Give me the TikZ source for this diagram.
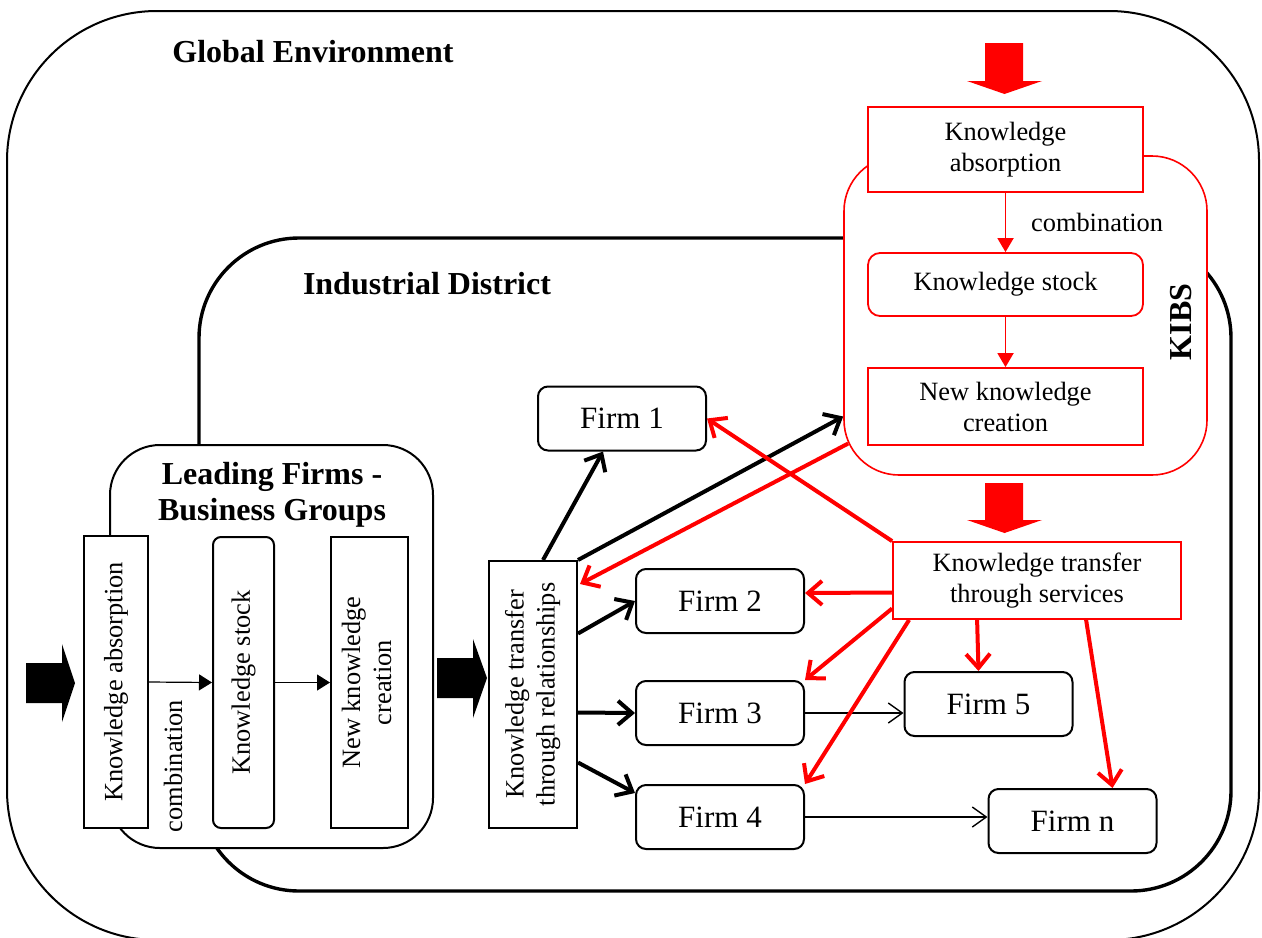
\documentclass[tikz,border=0pt]{standalone}
\usepackage{fontspec}
\setmainfont{Liberation Serif}
\usepackage{graphicx}
\usetikzlibrary{arrows.meta,calc}

\newcommand{\txtsz}{\fontsize{13.2}{15.5}\selectfont}
\newcommand{\firmsz}{\fontsize{15.5}{18}\selectfont}
\newcommand{\ttlsz}{\fontsize{16}{18}\selectfont\bfseries}

\begin{document}
\begin{tikzpicture}[x=0.5pt,y=-0.5pt,
  box/.style={draw,line width=1pt,fill=white,inner sep=2pt,font=\txtsz},
  firm/.style={draw,line width=1pt,rounded corners=5pt,minimum width=84pt,minimum height=32pt,font=\firmsz},
  kbox/.style={draw=red,line width=0.9pt,fill=white,minimum width=137.5pt,align=center,font=\txtsz},
  title/.style={font=\ttlsz,align=center},
  thinarr/.style={line width=0.6pt,-{Triangle[length=6.5pt,width=8pt]}},
  redthin/.style={red,line width=0.9pt,-{Triangle[length=7pt,width=8pt]}},
  relarr/.style={line width=2pt,-{Straight Barb[length=7pt,width=12pt]}},
  servarr/.style={red,line width=2pt,-{Straight Barb[length=7pt,width=12pt]}},
  linkarr/.style={line width=0.7pt,-{Straight Barb[length=7pt,width=10pt]}}]
\useasboundingbox (0,0) rectangle (1262,937);

% environments
\draw[line width=1pt,rounded corners=75pt] (7,11) rectangle (1259,940);
\node[title] (global) at (313,52) {Global Environment};
\draw[line width=1.7pt,rounded corners=50pt] (199,238) rectangle (1231,891);
\node[title] (district) at (427,284) {Industrial District};

% leading firms
\draw[line width=1pt,fill=white,rounded corners=25pt] (110,445) rectangle (433,848);
\node[title] (leading) at (272,495) {Leading Firms -\\Business Groups};
\node[box,minimum width=31.75pt,minimum height=146pt] (lfka) at (116,682) {\rotatebox{90}{Knowledge absorption}};
\node[box,rounded corners=4pt,minimum width=30.5pt,minimum height=145.5pt] (lfks) at (243.5,682.5) {\rotatebox{90}{Knowledge stock}};
\node[box,minimum width=38.5pt,minimum height=145.5pt] (lfnk) at (369.5,682.5) {\rotatebox{90}{\begin{tabular}{@{}c@{}}New knowledge\\creation\end{tabular}}};
\node[rotate=90,font=\txtsz] (lfcomb) at (173,766) {combination};
\draw[thinarr] (lfka.east) -- (lfks.west);
\draw[thinarr] (lfks.east) -- (lfnk.west);

% input arrows
\fill (26,663) -- (62,663) -- (62,644) -- (75,683) -- (62,722) -- (62,703) -- (26,703) -- cycle;
\fill (437,658) -- (473,658) -- (473,639) -- (487,678) -- (473,718) -- (473,698) -- (437,698) -- cycle;

\node[box,minimum width=44pt,minimum height=133.5pt] (ktr) at (533,694.5) {\rotatebox{90}{\begin{tabular}{@{}c@{}}Knowledge transfer\\through relationships\end{tabular}}};

% KIBS
\node[draw=red,line width=0.8pt,fill=white,rounded corners=27.5pt,minimum width=181.5pt,minimum height=159.5pt] (kibs) at (1025.5,315.5) {};
\node[kbox,minimum height=42.5pt] (kka) at (1005.5,149.5) {Knowledge\\absorption};
\node[kbox,rounded corners=6pt,minimum height=31.5pt] (kks) at (1005.5,284.5) {Knowledge stock};
\node[kbox,minimum height=38.5pt] (knk) at (1005.5,406.5) {New knowledge\\creation};
\node[title,rotate=90] (kibslbl) at (1181,322) {KIBS};
\draw[redthin] (kka) -- (kks) node[midway,right,xshift=9pt,text=black,font=\txtsz] (kcomb) {combination};
\draw[redthin] (kks) -- (knk);
\fill[red] (985,43) -- (1023,43) -- (1023,81) -- (1042,81) -- (1004.5,94) -- (967,81) -- (985,81) -- cycle;
\fill[red] (985,483) -- (1023,483) -- (1023,520) -- (1042,520) -- (1004.5,533) -- (967,520) -- (985,520) -- cycle;
\node[kbox,minimum width=144pt,minimum height=38.5pt] (kts) at (1037,580.5) {Knowledge transfer\\through services};

% firms
\node[firm] (firm1) at (622,418.5) {Firm 1};
\node[firm] (firm2) at (720,601) {Firm 2};
\node[firm] (firm3) at (720,713) {Firm 3};
\node[firm] (firm4) at (720,817) {Firm 4};
\node[firm] (firm5) at (988.5,704) {Firm 5};
\node[firm] (firmn) at (1072.5,821) {Firm n};

% relationships
\draw[relarr] ($(ktr.north)+(10,0)$) -- ($(firm1.south)+(-19,0)$);
\draw[relarr] (ktr.north east) -- ($(kibs.west)+(0,101)$);
\draw[relarr] ($(ktr.east)+(0,-61)$) -- (firm2.west);
\draw[relarr] ($(ktr.east)+(0,18)$) -- (firm3.west);
\draw[relarr] ($(ktr.east)+(0,68)$) -- ($(firm4.west)+(0,-24)$);
\draw[linkarr] (firm3.east) -- (firm3.east -| firm5.west);
\draw[linkarr] (firm4.east) -- (firm4.east -| firmn.west);

% services
\draw[servarr] ($(kibs.west)+(5,128)$) -- ($(ktr.north east)+(2,24)$);
\draw[servarr] (kts.north west) -- (firm1.east);
\draw[servarr] ($(kts.west)+(0,12)$) -- ($(firm2.east)+(0,-8)$);
\draw[servarr] ($(kts.west)+(0,28)$) -- (firm3.north east);
\draw[servarr] ($(kts.south west)+(17,0)$) -- (firm4.north east);
\draw[servarr] ($(kts.south west)+(85,0)$) -- ($(firm5.north)+(-10,0)$);
\draw[servarr] ($(kts.south west)+(194,0)$) -- ($(firmn.north)+(40,0)$);
\end{tikzpicture}
\end{document}
